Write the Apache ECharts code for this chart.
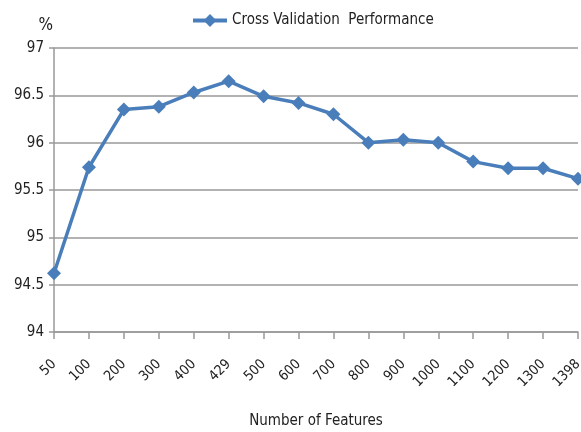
<!DOCTYPE html>
<html>
<head>
<meta charset="utf-8">
<script src="https://cdn.jsdelivr.net/npm/echarts@6/dist/echarts.min.js"></script>
<style>html,body{margin:0;padding:0;background:#fff}#c{width:581px;height:432px}</style>
</head>
<body>
<div id="c"></div>
<script>
const categories = ['50','100','200','300','400','429','500','600','700','800','900','1000','1100','1200','1300','1398'];
const performance = [94.62, 95.74, 96.35, 96.38, 96.53, 96.65, 96.49, 96.42, 96.30, 96.00, 96.03, 96.00, 95.80, 95.73, 95.73, 95.62];
const yMin = 94, yMax = 97, yStep = 0.5;
const seriesName = 'Cross Validation  Performance';

const font = 'Liberation Sans Narrow, DejaVu Sans Condensed, sans-serif';
const chart = echarts.init(document.getElementById('c'));
chart.setOption({
  animation: false,
  backgroundColor: '#fff',
  legend: {
    top: 8, left: 186,
    itemWidth: 34, itemHeight: 16, itemGap: 4,
    lineStyle: { width: 4 },
    textStyle: { fontFamily: font, fontSize: 15, color: '#222' },
    data: [seriesName]
  },
  grid: { left: 54, right: 3, top: 48, bottom: 100, containLabel: false, outerBoundsMode: 'none' },
  xAxis: {
    type: 'category', data: categories, boundaryGap: false,
    name: 'Number of Features', nameLocation: 'middle', nameGap: 82,
    nameTextStyle: { fontFamily: font, fontSize: 15, color: '#222' },
    axisLine: { lineStyle: { color: '#999', width: 1.5 } },
    axisTick: { show: true, length: 7, lineStyle: { color: '#999', width: 1.5 } },
    axisLabel: { rotate: 45, fontFamily: font, fontSize: 14, color: '#222', margin: 30 }
  },
  yAxis: {
    type: 'value', min: yMin, max: yMax, interval: yStep,
    name: '%', nameLocation: 'end', nameGap: 14,
    nameTextStyle: { fontFamily: font, fontSize: 17, color: '#222', align: 'right', padding: [0, 1, 0, 0] },
    axisLine: { show: true, lineStyle: { color: '#999', width: 1.5 } },
    axisTick: { show: true, length: 5, lineStyle: { color: '#999', width: 1.5 } },
    axisLabel: { fontFamily: font, fontSize: 15, color: '#222', margin: 10 },
    splitLine: { lineStyle: { color: '#999', width: 1.5 } }
  },
  series: [{
    name: seriesName, type: 'line', data: performance,
    symbol: 'diamond', symbolSize: 14,
    lineStyle: { color: '#4a7ebb', width: 3.5 },
    itemStyle: { color: '#4a7ebb' }
  }]
});
</script>
</body>
</html>
